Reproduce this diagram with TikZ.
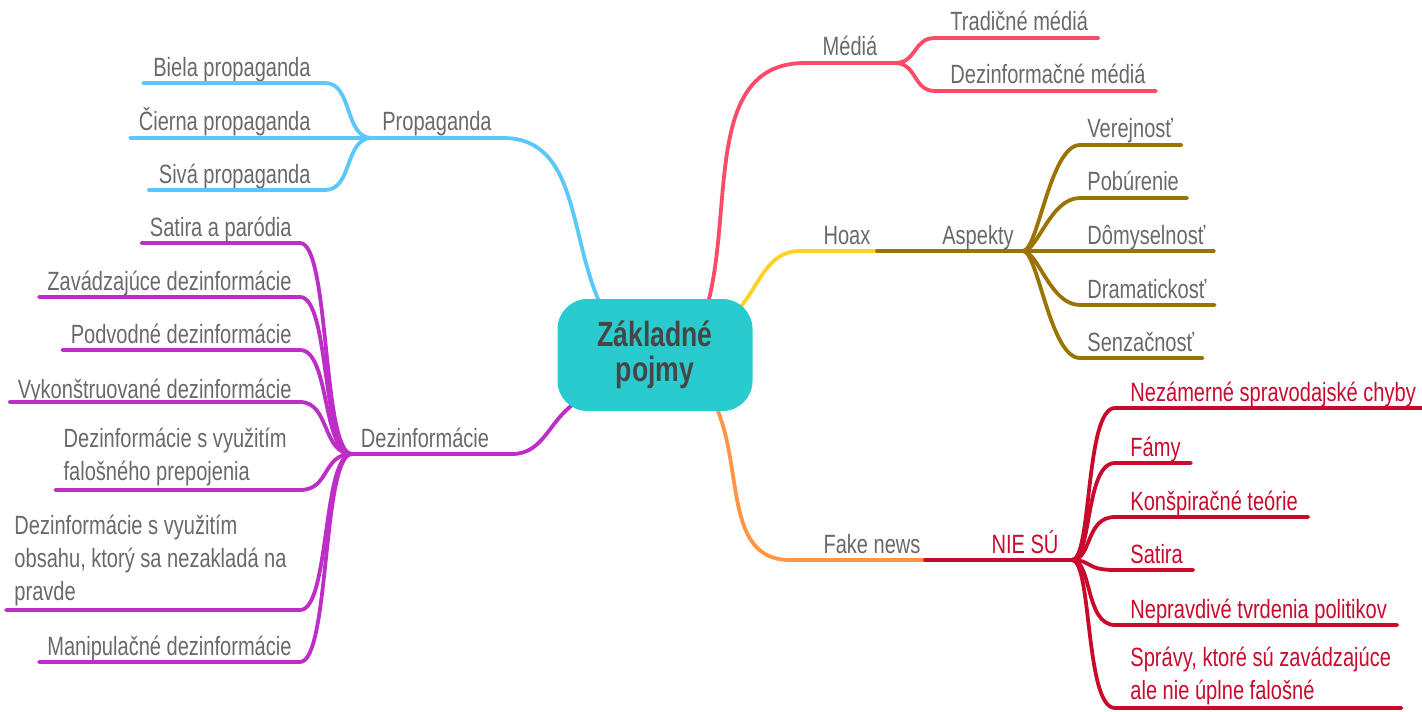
\documentclass[tikz,border=0pt]{standalone}
\usepackage{fontspec}
\setmainfont{Liberation Sans}[FakeStretch=0.76]
\usetikzlibrary{backgrounds}
\definecolor{txt}{RGB}{105,105,105}
\definecolor{cdark}{RGB}{70,70,70}
\definecolor{ccore}{RGB}{42,203,207}
\definecolor{cprop}{RGB}{90,200,250}
\definecolor{cmedia}{RGB}{250,75,105}
\definecolor{choax}{RGB}{255,210,40}
\definecolor{casp}{RGB}{155,115,0}
\definecolor{cfake}{RGB}{255,150,70}
\definecolor{cnie}{RGB}{200,10,45}
\definecolor{cdez}{RGB}{190,45,200}

\begin{document}
\begin{tikzpicture}[x=0.5pt,y=-0.5pt,
  font=\fontsize{13.2}{16.5}\selectfont,
  lbl/.style={inner sep=0pt,text=txt},
  nie lbl/.style={inner sep=0pt,text=cnie},
  br/.style={line width=1.9pt,line cap=round},
  prop/.style={br,draw=cprop},
  media/.style={br,draw=cmedia},
  hoax/.style={br,draw=choax},
  asp/.style={br,draw=casp},
  fake/.style={br,draw=cfake},
  nie/.style={br,draw=cnie},
  dez/.style={br,draw=cdez}]
\useasboundingbox (0,0) rectangle (1422,711);

\node[fill=ccore, rounded corners=15pt, minimum width=97.5pt, minimum height=56pt, align=center, text=cdark, font=\bfseries\fontsize{17.5}{17.5}\selectfont] (core) at (655,355) {Základné\\pojmy};

\node[lbl, anchor=base] (propaganda) at (437,131) {Propaganda};
\node[lbl, anchor=base] (media) at (850,56) {Médiá};
\node[lbl, anchor=base] (hoax) at (847,244) {Hoax};
\node[lbl, anchor=base] (aspekty) at (978,244) {Aspekty};
\node[lbl, anchor=base] (fakenews) at (872,553) {Fake news};
\node[nie lbl, anchor=base] (niesu) at (1025,553) {NIE SÚ};
\node[lbl, anchor=base] (dezinf) at (425,447) {Dezinformácie};

\coordinate (propH) at (372,138);
\coordinate (propR) at (503,138);
\coordinate (mediaL) at (805,63);
\coordinate (mediaH) at (895,63);
\coordinate (hoaxL) at (800,251);
\coordinate (aspL) at (877,251);
\coordinate (aspH) at (1023,251);
\coordinate (fakeL) at (790,560);
\coordinate (nieL) at (925,560);
\coordinate (nieH) at (1072,560);
\coordinate (dezH) at (352,454);
\coordinate (dezR) at (512,454);

\begin{scope}[on background layer]
\draw[prop] ([shift={(0,6)}]core.134) to[out=115,in=0] (propR) -- (propH);
\draw[media] ([shift={(0,6)}]core.47) to[out=75,in=180] (mediaL) -- (mediaH);
\draw[hoax] ([shift={(-6,10)}]core.32) to[out=50,in=180] (hoaxL) -- (aspL);
\draw[asp] (aspL) -- (aspH);
\draw[fake] ([shift={(0,-6)}]core.-43) to[out=-65,in=180] (fakeL) -- (nieL);
\draw[nie] (nieL) -- (nieH);
\draw[dez] ([shift={(3,-8)}]core.214) to[out=215,in=0] (dezR) -- (dezH);
\end{scope}

\node[lbl, anchor=base east] (biela) at (311,77) {Biela propaganda};
\node[lbl, anchor=base east] (cierna) at (311,131) {Čierna propaganda};
\node[lbl, anchor=base east] (siva) at (311,184) {Sivá propaganda};
\draw[prop] (propH) .. controls +(-28,0) and +(28,0) .. ([shift={(14,6)}]biela.base east) -- ([shift={(-10,6)}]biela.base west);
\draw[prop] (propH) -- ([shift={(-8,7)}]cierna.base west);
\draw[prop] (propH) .. controls +(-28,0) and +(28,0) .. ([shift={(14,6)}]siva.base east) -- ([shift={(-10,6)}]siva.base west);

\node[lbl, anchor=base west] (tradicne) at (950,31) {Tradičné médiá};
\node[lbl, anchor=base west] (dezmedia) at (950,84) {Dezinformačné médiá};
\draw[media] (mediaH) .. controls +(22,0) and +(-22,0) .. ([shift={(-15,7)}]tradicne.base west) -- ([shift={(10,7)}]tradicne.base east);
\draw[media] (mediaH) .. controls +(22,0) and +(-22,0) .. ([shift={(-15,7)}]dezmedia.base west) -- ([shift={(10,7)}]dezmedia.base east);

\node[lbl, anchor=base west] (verejnost) at (1087,138) {Verejnosť};
\node[lbl, anchor=base west] (poburenie) at (1087,191) {Pobúrenie};
\node[lbl, anchor=base west] (domyselnost) at (1087,244) {Dômyselnosť};
\node[lbl, anchor=base west] (dramatickost) at (1087,298) {Dramatickosť};
\node[lbl, anchor=base west] (senzacnost) at (1087,351) {Senzačnosť};
\draw[asp] (aspH) .. controls +(15,0) and +(-30,0) .. ([shift={(-7,7)}]verejnost.base west) -- ([shift={(8,7)}]verejnost.base east);
\draw[asp] (aspH) .. controls +(15,0) and +(-30,0) .. ([shift={(-7,7)}]poburenie.base west) -- ([shift={(8,7)}]poburenie.base east);
\draw[asp] (aspH) -- ([shift={(8,7)}]domyselnost.base east);
\draw[asp] (aspH) .. controls +(15,0) and +(-30,0) .. ([shift={(-7,7)}]dramatickost.base west) -- ([shift={(8,7)}]dramatickost.base east);
\draw[asp] (aspH) .. controls +(15,0) and +(-30,0) .. ([shift={(-7,7)}]senzacnost.base west) -- ([shift={(8,7)}]senzacnost.base east);

\node[nie lbl, anchor=base west] (nezamerne) at (1130,401) {Nezámerné spravodajské chyby};
\node[nie lbl, anchor=base west] (famy) at (1130,456) {Fámy};
\node[nie lbl, anchor=base west] (konspiracne) at (1130,510) {Konšpiračné teórie};
\node[nie lbl, anchor=base west] (satira) at (1130,563) {Satira};
\node[nie lbl, anchor=base west] (nepravdive) at (1130,618) {Nepravdivé tvrdenia politikov};
\node[nie lbl, anchor=south west, align=left] (spravy) at (1130,705) {Správy, ktoré sú zavádzajúce\\ale nie úplne falošné};
\draw[nie] (nieH) .. controls +(20,0) and +(-30,0) .. ([shift={(-15,7)}]nezamerne.base west) -- ([shift={(10,7)}]nezamerne.base east);
\draw[nie] (nieH) .. controls +(20,0) and +(-30,0) .. ([shift={(-15,7)}]famy.base west) -- ([shift={(10,7)}]famy.base east);
\draw[nie] (nieH) .. controls +(20,0) and +(-30,0) .. ([shift={(-15,7)}]konspiracne.base west) -- ([shift={(10,7)}]konspiracne.base east);
\draw[nie] (nieH) .. controls +(20,0) and +(-30,0) .. ([shift={(-15,7)}]satira.base west) -- ([shift={(10,7)}]satira.base east);
\draw[nie] (nieH) .. controls +(20,0) and +(-30,0) .. ([shift={(-15,7)}]nepravdive.base west) -- ([shift={(10,7)}]nepravdive.base east);
\draw[nie] (nieH) .. controls +(20,0) and +(-30,0) .. ([shift={(-15,3)}]spravy.south west) -- ([shift={(10,3)}]spravy.south east);

\node[lbl, anchor=base east] (parodia) at (292,236) {Satira a paródia};
\node[lbl, anchor=base east] (zavadzajuce) at (292,290) {Zavádzajúce dezinformácie};
\node[lbl, anchor=base east] (podvodne) at (292,343) {Podvodné dezinformácie};
\node[lbl, anchor=base east] (vykonstruovane) at (292,398) {Vykonštruované dezinformácie};
\node[lbl, anchor=south east, align=left] (prepojenie) at (287,486) {Dezinformácie s využitím\\falošného prepojenia};
\node[lbl, anchor=south east, align=left] (obsah) at (287,606) {Dezinformácie s využitím\\obsahu, ktorý sa nezakladá na\\pravde};
\node[lbl, anchor=base east] (manipulacne) at (292,655) {Manipulačné dezinformácie};
\draw[dez] (dezH) .. controls +(-30,0) and +(30,0) .. ([shift={(8,7)}]parodia.base east) -- ([shift={(-8,7)}]parodia.base west);
\draw[dez] (dezH) .. controls +(-30,0) and +(30,0) .. ([shift={(8,7)}]zavadzajuce.base east) -- ([shift={(-8,7)}]zavadzajuce.base west);
\draw[dez] (dezH) .. controls +(-30,0) and +(30,0) .. ([shift={(8,7)}]podvodne.base east) -- ([shift={(-8,7)}]podvodne.base west);
\draw[dez] (dezH) .. controls +(-30,0) and +(30,0) .. ([shift={(8,4)}]vykonstruovane.base east) -- ([shift={(-8,4)}]vykonstruovane.base west);
\draw[dez] (dezH) .. controls +(-30,0) and +(30,0) .. ([shift={(13,4)}]prepojenie.south east) -- ([shift={(-8,4)}]prepojenie.south west);
\draw[dez] (dezH) .. controls +(-30,0) and +(30,0) .. ([shift={(13,4)}]obsah.south east) -- ([shift={(-8,4)}]obsah.south west);
\draw[dez] (dezH) .. controls +(-30,0) and +(30,0) .. ([shift={(8,7)}]manipulacne.base east) -- ([shift={(-8,7)}]manipulacne.base west);
\end{tikzpicture}
\end{document}
